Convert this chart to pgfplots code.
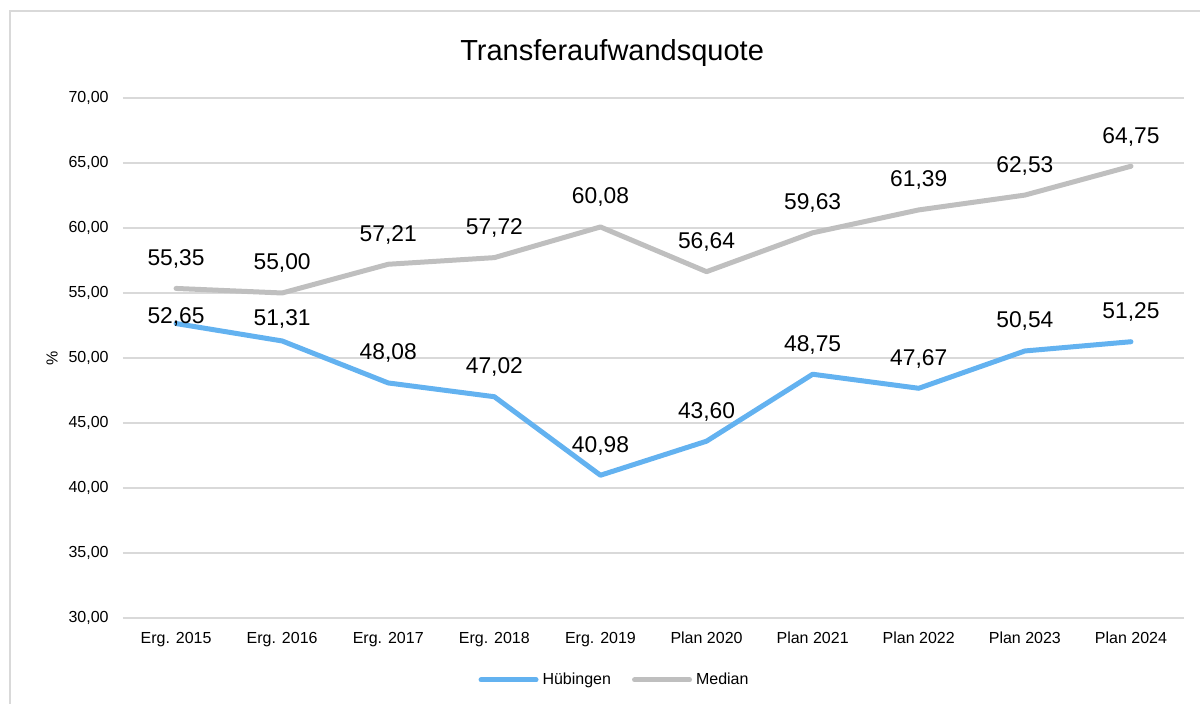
\documentclass[border=0pt]{standalone}
\usepackage{pgfplots}
\pgfplotsset{compat=1.18}
\usepackage{pgfplotstable}
\usepackage{fontspec}
\setmainfont{Liberation Sans}
\definecolor{hblue}{RGB}{99,178,240}
\definecolor{mgray}{RGB}{191,191,191}
\definecolor{gridc}{RGB}{217,217,217}
\pgfplotstableread{
x y ly lab
0 52.65 53.15 52,65
1 51.31 53.00 51,31
2 48.08 50.35 48,08
3 47.02 49.29 47,02
4 40.98 43.25 40,98
5 43.60 45.87 43,60
6 48.75 51.02 48,75
7 47.67 49.94 47,67
8 50.54 52.81 50,54
9 51.25 53.52 51,25
}\hueb
\pgfplotstableread{
x y ly lab
0 55.35 57.62 55,35
1 55.00 57.27 55,00
2 57.21 59.48 57,21
3 57.72 59.99 57,72
4 60.08 62.35 60,08
5 56.64 58.91 56,64
6 59.63 61.90 59,63
7 61.39 63.66 61,39
8 62.53 64.80 62,53
9 64.75 67.02 64,75
}\med
\begin{document}
\begin{tikzpicture}
\useasboundingbox (-61.5pt,-43pt) rectangle (538.5pt,309pt);
\begin{axis}[
  scale only axis,
  width=530.5pt, height=260pt,
  xmin=-0.5, xmax=9.5, ymin=30, ymax=70,
  xtick={0,...,9},
  xticklabels={Erg. 2015,Erg. 2016,Erg. 2017,Erg. 2018,Erg. 2019,Plan 2020,Plan 2021,Plan 2022,Plan 2023,Plan 2024},
  ytick={30,35,...,70},
  yticklabel style={/pgf/number format/fixed, /pgf/number format/fixed zerofill, /pgf/number format/precision=2, /pgf/number format/use comma, /pgf/number format/assume math mode=true, font=\fontsize{8}{9.6}\selectfont, anchor=east, inner sep=0pt, xshift=-7pt},
  xticklabel style={font=\fontsize{8}{9.6}\selectfont, anchor=north, inner sep=0pt, yshift=-7pt},
  axis line style={draw=none},
  major tick length=0pt,
  tick style={draw=none},
  ymajorgrids,
  grid style={gridc, line width=1pt},
  ylabel={\%},
  ylabel style={at={(axis description cs:-0.0669,0.5)}, anchor=center, font=\fontsize{8}{9.6}\selectfont},
  title={Transferaufwandsquote},
  title style={at={(axis description cs:0.461,1)}, anchor=center, yshift=16.5pt, font=\fontsize{14.5}{17}\selectfont},
  legend style={at={(axis description cs:0.4642,-0.119)}, anchor=center, draw=none, font=\fontsize{8}{9.6}\selectfont, legend columns=2, /tikz/every even column/.append style={column sep=8.5pt}, inner sep=0pt},
  legend cell align=left,
  legend image code/.code={\draw[#1] (0pt,0pt) -- (27.5pt,0pt);},
  every node near coord/.append style={anchor=center, font=\fontsize{11.4}{13}\selectfont, text=black},
  clip=false,
]
\addplot[hblue, line width=2.5pt, line cap=round, line join=round, mark=none] table[x=x,y=y] {\hueb};
\addlegendentry{Hübingen}
\addplot[mgray, line width=2.5pt, line cap=round, line join=round, mark=none] table[x=x,y=y] {\med};
\addlegendentry{Median}
\addplot[draw=none, mark=none, nodes near coords, point meta=explicit symbolic, forget plot] table[x=x,y=ly,meta=lab] {\hueb};
\addplot[draw=none, mark=none, nodes near coords, point meta=explicit symbolic, forget plot] table[x=x,y=ly,meta=lab] {\med};
\end{axis}
\draw[gridc, line width=1pt] (-56.5pt,-60pt) -- (-56.5pt,303.5pt) -- (560pt,303.5pt);
\end{tikzpicture}
\end{document}
